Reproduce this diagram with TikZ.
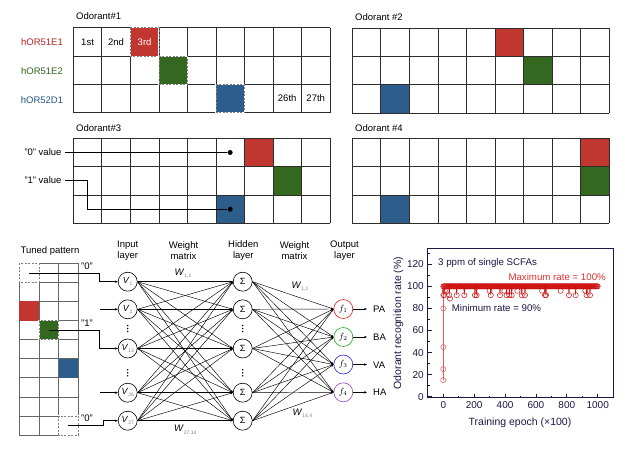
\documentclass[tikz,border=0pt]{standalone}
\usepackage{fontspec}
\setmainfont{Liberation Sans}
\usetikzlibrary{arrows.meta}
\definecolor{cred}{RGB}{194,54,48}
\definecolor{cgreen}{RGB}{52,104,32}
\definecolor{cblue}{RGB}{45,93,138}
\definecolor{lred}{RGB}{185,35,35}
\definecolor{lgreen}{RGB}{50,100,30}
\definecolor{lblue}{RGB}{35,85,135}
\definecolor{gridc}{RGB}{45,45,45}
\definecolor{ored}{RGB}{225,30,30}
\definecolor{ogreen}{RGB}{30,170,40}
\definecolor{oblue}{RGB}{40,40,210}
\definecolor{opurple}{RGB}{140,70,190}
\definecolor{pred}{RGB}{205,15,15}
\definecolor{plred}{RGB}{225,90,90}
\definecolor{navy}{RGB}{25,25,70}
\definecolor{maxred}{RGB}{220,50,50}
\newcommand\vsub[2]{\textit{#1}\raisebox{-0.45ex}{\fontsize{5}{5}\selectfont\color{gray}#2}}
\newcommand\ninegrid{%
  \foreach \i in {0,...,9}{\draw[gl] (\i,0) -- (\i,3);}
  \foreach \j in {0,...,3}{\draw[gl] (0,\j) -- (9,\j);}}
\begin{document}
\begin{tikzpicture}[x=1pt,y=-1pt,font=\fontsize{9.5}{11}\selectfont,
  gl/.style={draw=gridc,line width=0.7pt},
  tgl/.style={draw=gray!80!black,line width=0.7pt},
  dsh/.style={draw=gray,line width=0.7pt,dash pattern=on 2pt off 1.5pt},
  wht/.style={draw=white,line width=1.1pt},
  cellscope/.style={x=28.52pt,y=-28.35pt},
  tscope/.style={x=19.67pt,y=-19.08pt},
  neuron/.style={circle,draw=black,line width=0.6pt,minimum size=19pt,inner sep=0pt,fill=white,font=\fontsize{9}{10}\selectfont},
  wline/.style={line width=0.45pt,-{Stealth[length=2.5pt,width=2pt]}},
  arr/.style={line width=0.6pt,-{Stealth[length=3pt,width=2.4pt]}},
  cl/.style={line width=0.7pt},
  dot/.style={circle,fill=black,inner sep=0pt,minimum size=5pt},
  mk/.style={draw=pred,line width=0.5pt},
  hdr/.style={align=center,font=\fontsize{9.5}{11}\selectfont},
  tl/.style={font=\fontsize{10}{12}\selectfont,text=navy,inner sep=0pt},
]
\fill[white] (0,0) rectangle (625,450);
\useasboundingbox (0,0) rectangle (625,450);

% ---------- labels of top grids
\node[anchor=west,inner sep=0pt] (od1) at (76,16) {Odorant\#1};
\node[anchor=west,inner sep=0pt] (od2) at (355,17) {Odorant \#2};
\node[anchor=west,inner sep=0pt] (od3) at (76,128) {Odorant\#3};
\node[anchor=west,inner sep=0pt] (od4) at (355,128) {Odorant \#4};
\node[text=lred] (r1) at (42,42) {hOR51E1};
\node[text=lgreen] (r2) at (42,71) {hOR51E2};
\node[text=lblue] (r3) at (42,100) {hOR52D1};

% ---------- grid 1
\begin{scope}[shift={(73.3,27.7)},cellscope]
  \ninegrid
  \fill[cred] (2,0) rectangle (3,1);
  \fill[cgreen] (3,1) rectangle (4,2);
  \fill[cblue] (5,2) rectangle (6,3);
  \foreach \a/\b in {2/0,3/1,5/2}{\draw[wht] (\a,\b) rectangle ++(1,1); \draw[dsh] (\a,\b) rectangle ++(1,1);}
  \node (g1a) at (0.5,0.5) {1st};
  \node (g1b) at (1.5,0.5) {2nd};
  \node[text=white] (g1c) at (2.5,0.5) {3rd};
  \node (g1d) at (7.5,2.5) {26th};
  \node (g1e) at (8.5,2.5) {27th};
\end{scope}

% ---------- grid 2
\begin{scope}[shift={(352.3,28)},cellscope]
  \fill[cred] (5,0) rectangle (6,1);
  \fill[cgreen] (6,1) rectangle (7,2);
  \fill[cblue] (1,2) rectangle (2,3);
  \ninegrid
\end{scope}

% ---------- grid 3
\begin{scope}[shift={(73.3,138.3)},cellscope]
  \fill[cred] (6,0) rectangle (7,1);
  \fill[cgreen] (7,1) rectangle (8,2);
  \fill[cblue] (5,2) rectangle (6,3);
  \ninegrid
  \node[dot] (d0) at (5.5,0.5) {};
  \node[dot] (d1) at (5.5,2.5) {};
\end{scope}
\node[anchor=east] (v0) at (65,152.5) {"0" value};
\node[anchor=east] (v1) at (65,180.5) {"1" value};
\draw[cl] (v0.east) -- (d0);
\draw[cl] (v1.east) -- ++(22,0) |- (d1);

% ---------- grid 4
\begin{scope}[shift={(352.3,138.3)},cellscope]
  \fill[cred] (8,0) rectangle (9,1);
  \fill[cgreen] (8,1) rectangle (9,2);
  \fill[cblue] (1,2) rectangle (2,3);
  \ninegrid
\end{scope}

% ---------- tuned pattern
\node (tp) at (50,251) {Tuned pattern};
\begin{scope}[shift={(19.3,263.3)},tscope]
  \foreach \i in {0,...,3}{\draw[tgl] (\i,0) -- (\i,9);}
  \foreach \j in {0,...,9}{\draw[tgl] (0,\j) -- (3,\j);}
  \fill[cred] (0,2) rectangle (1,3);
  \fill[cgreen] (1,3) rectangle (2,4);
  \fill[cblue] (2,5) rectangle (3,6);
  \fill[white] (0,0) rectangle (1,1);
  \fill[white] (2,8) rectangle (3,9);
  \foreach \a/\b in {0/0,1/3,2/8}{\draw[wht] (\a,\b) rectangle ++(1,1); \draw[dsh] (\a,\b) rectangle ++(1,1);}
  \coordinate (t0) at (0.5,0.5);
  \coordinate (t1) at (1.5,3.5);
  \coordinate (t2) at (2.5,8.5);
\end{scope}
\node[anchor=west,inner sep=0pt] (q0) at (81,266) {"0"};
\node[anchor=west,inner sep=0pt] (q1) at (81,323.5) {"1"};
\node[anchor=west,inner sep=0pt] (q2) at (81,418.5) {"0"};

% ---------- headers
\node[hdr] (hin) at (127.7,251) {Input\\layer};
\node[hdr] (hw1) at (183.5,251) {Weight\\matrix};
\node[hdr] (hhid) at (243.3,251) {Hidden\\layer};
\node[hdr] (hw2) at (294.5,251) {Weight\\matrix};
\node[hdr] (hout) at (344.5,251) {Output\\layer};

% ---------- neurons
\node[neuron] (in1) at (127.7,281.7) {\vsub{V}{1}};
\node[neuron] (in2) at (127.7,309.3) {\vsub{V}{2}};
\node[neuron] (in13) at (127.7,348.5) {\vsub{V}{13}};
\node[neuron] (in26) at (127.7,392.7) {\vsub{V}{26}};
\node[neuron] (in27) at (127.7,420.7) {\vsub{V}{27}};
\node[neuron] (h1) at (242.7,281.7) {Σ};
\node[neuron] (h2) at (242.7,309.3) {Σ};
\node[neuron] (h3) at (242.7,348.5) {Σ};
\node[neuron] (h4) at (242.7,392.7) {Σ};
\node[neuron] (h5) at (242.7,420.7) {Σ};
\node[neuron,draw=ored] (o1) at (343.3,309) {$f_1$};
\node[neuron,draw=ogreen] (o2) at (343.3,337) {$f_2$};
\node[neuron,draw=oblue] (o3) at (343.3,364.5) {$f_3$};
\node[neuron,draw=opurple] (o4) at (343.3,392.3) {$f_4$};

\foreach \y in {328.5,372.8}{
  \foreach \d in {-3,0,3}{\fill (127.7,\y+\d) circle (0.8pt); \fill (242.7,\y+\d) circle (0.8pt);}}

\foreach \i in {in1,in2,in13,in26,in27}
  \foreach \j in {h1,h2,h3,h4,h5}
    \draw[wline] (\i.east) -- (\j.west);
\foreach \i in {h1,h2,h3,h4,h5}
  \foreach \j in {o1,o2,o3,o4}
    \draw[wline] (\i.east) -- (\j.west);

% inputs
\draw[arr] (t0) -- ++(70.2,0) |- (in1.west);
\draw[arr] (t1) -- ++(50.5,0) |- (in13.west);
\draw[arr] (t2) -- ++(34.8,0) |- (in27.west);
\coordinate (s2) at (100,309.3);
\coordinate (s26) at (100,392.7);
\draw[arr] (s2) -- (in2.west);
\draw[arr] (s26) -- (in26.west);

% weights
\node[anchor=west,inner sep=0pt] (w1) at (174.5,273.3) {\vsub{W}{1,1}};
\node[anchor=west,inner sep=0pt] (w2) at (174,430) {\vsub{W}{27,14}};
\node[anchor=west,inner sep=0pt] (w3) at (291.5,286.7) {\vsub{W}{1,1}};
\node[anchor=west,inner sep=0pt] (w4) at (292.5,413.3) {\vsub{W}{14,4}};

% outputs
\node[anchor=west,inner sep=0pt] (pa) at (373,309.5) {PA};
\node[anchor=west,inner sep=0pt] (ba) at (373,337.5) {BA};
\node[anchor=west,inner sep=0pt] (va) at (373,365) {VA};
\node[anchor=west,inner sep=0pt] (ha) at (373,392.5) {HA};
\draw[arr] (o1.east) -- ([xshift=-6pt]pa.west |- o1.east);
\draw[arr] (o2.east) -- ([xshift=-6pt]ba.west |- o2.east);
\draw[arr] (o3.east) -- ([xshift=-6pt]va.west |- o3.east);
\draw[arr] (o4.east) -- ([xshift=-6pt]ha.west |- o4.east);

% ---------- chart
\node[rotate=90,font=\fontsize{10.5}{12}\selectfont,text=navy] (ylab) at (398.3,323) {Odorant recognition rate (\%)};
\node[font=\fontsize{10.5}{12}\selectfont,text=navy] (xlab) at (520,422.7) {Training epoch (×100)};
\node[anchor=west,inner sep=0pt,font=\fontsize{9.7}{11}\selectfont,text=navy] (ctx) at (438,263.3) {3 ppm of single SCFAs};
\node[anchor=west,inner sep=0pt,font=\fontsize{9.7}{11}\selectfont,text=maxred] (cmax) at (508.3,276.7) {Maximum rate = 100\%};
\node[anchor=west,inner sep=0pt,font=\fontsize{9.7}{11}\selectfont,text=navy] (cmin) at (451.7,308.3) {Minimum rate = 90\%};
\begin{scope}[shift={(443.3,396.7)},x=0.1544pt,y=1.1035pt]
  \draw[navy,line width=0.8pt] (-100,-1) rectangle (1100,134.5);
  \foreach \v in {0,200,...,1000}{
    \draw[navy,line width=0.7pt] (\v,-1) -- ++(0,3.6);
    \node[tl] (xt\v) at (\v,-8) {\v};}
  \foreach \v in {100,300,...,900}{\draw[navy,line width=0.7pt] (\v,-1) -- ++(0,1.8);}
  \foreach \v in {0,20,...,120}{
    \draw[navy,line width=0.7pt] (-100,\v) -- ++(26,0);
    \node[tl,anchor=east] (yt\v) at (-125,\v) {\v};}
  \foreach \v in {10,30,...,130}{\draw[navy,line width=0.7pt] (-100,\v) -- ++(13,0);}
  % data
  \draw[plred,line width=0.6pt] (0,15) -- (0,100);
  \draw[pred,line width=0.6pt] (0,100) -- (1000,100);
  \foreach \v in {15,25,45,80,92}{\draw[draw=plred,line width=0.5pt] (0,\v) circle (2.6pt);}
  \foreach \x in {5,39,87,136,205,216,307,367,410,428,443,508,529,659,665,814,857,928,950}{
    \draw[pred,line width=0.5pt] (\x-4,100) -- (\x,92) -- (\x+4,100);
    \draw[mk] (\x,92) circle (2.6pt);}
  \foreach \x in {10,25,300,395,480,640,760,920}{
    \draw[mk] (\x,96) circle (2.6pt);}
  \draw[mk] (43,89) circle (2.6pt);
  \foreach \x in {0,5,...,1000}{\draw[mk] (\x,100) circle (2.6pt);}
\end{scope}
\end{tikzpicture}
\end{document}
